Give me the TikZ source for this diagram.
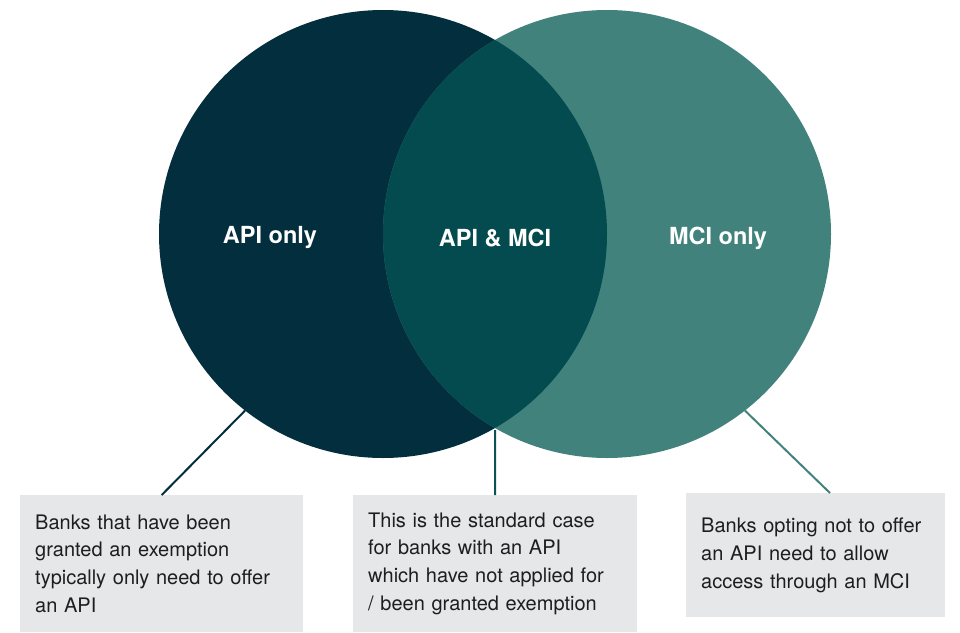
\documentclass[tikz,border=0pt]{standalone}
\usepackage{fontspec}
\setmainfont{TeX Gyre Heros}
\definecolor{apidark}{HTML}{032E3D}
\definecolor{mcigreen}{HTML}{41837C}
\definecolor{overlap}{HTML}{034B4F}
\definecolor{boxgray}{HTML}{E6E7E9}
\definecolor{boxtext}{HTML}{1E1E1E}
\begin{document}
\begin{tikzpicture}[x=1pt,y=-1pt,
  setcircle/.style={circle,minimum size=448pt,inner sep=0pt},
  setlabel/.style={text=white,font=\fontsize{23.5}{27}\selectfont\bfseries},
  notebox/.style={fill=boxgray,text=boxtext,align=left,inner xsep=15pt,
    inner ysep=0pt,anchor=north west,
    font=\fontsize{20}{27.7}\selectfont},
  leader/.style={line width=2pt}]
\useasboundingbox (0,0) rectangle (960,632);
% the two sets
\node[setcircle,fill=apidark] (L) at (383,234) {};
\node[setcircle,fill=mcigreen] (R) at (607,234) {};
% overlap of the sets
\begin{scope}
  \clip (L.center) circle (224pt);
  \fill[overlap] (R.center) circle (224pt);
\end{scope}
% set labels
\node[setlabel] (apionly) at (270,238) {API only};
\node[setlabel] (both) at (495,238) {API \& MCI};
\node[setlabel] (mcionly) at (718,238) {MCI only};
% explanatory notes
\node[notebox,text width=253pt,minimum height=137pt] (nl) at (20,495)
  {Banks that have been\\granted an exemption\\typically only need to offer\\an API};
\node[notebox,text width=254pt,minimum height=137pt] (nm) at (353,495)
  {This is the standard case\\for banks with an API\\which have not applied for\\/ been granted exemption};
\node[notebox,text width=229pt,minimum height=124pt] (nr) at (686,493)
  {Banks opting not to offer\\an API need to allow\\access through an MCI};
% leader lines
\coordinate (lensbottom) at (495,430);
\coordinate (nrtop) at (830,493);
\draw[leader,apidark] (L.232) -- (nl.north);
\draw[leader,overlap!85!mcigreen] (lensbottom) -- (nm.north);
\draw[leader,mcigreen] (R.-52) -- (nrtop);
\end{tikzpicture}
\end{document}
